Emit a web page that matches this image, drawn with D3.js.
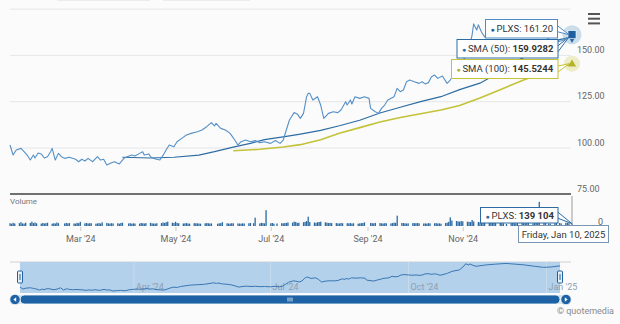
<!DOCTYPE html>
<html>
<head>
<meta charset="utf-8">
<script src="https://cdn.jsdelivr.net/npm/d3@7"></script>
<style>
body { margin: 0; background: #fbfbfb; }
svg text { font-family: Roboto, "Liberation Sans", sans-serif; }
</style>
</head>
<body>
<svg id="chart" width="620" height="324"></svg>
<script>
// PLXS daily chart with SMA 50 / SMA 100 and volume

const priceDates = ["2024-01-16","2024-01-18","2024-01-20","2024-01-23","2024-01-25","2024-01-27","2024-01-29","2024-01-31",
  "2024-02-01","2024-02-03","2024-02-05","2024-02-07","2024-02-09","2024-02-11","2024-02-12","2024-02-14","2024-02-16","2024-02-18","2024-02-20","2024-02-23","2024-02-27","2024-02-29",
  "2024-03-02","2024-03-04","2024-03-06","2024-03-09","2024-03-12","2024-03-14","2024-03-16","2024-03-18","2024-03-21","2024-03-23","2024-03-26","2024-03-29","2024-03-31",
  "2024-04-03","2024-04-05","2024-04-08","2024-04-10","2024-04-11","2024-04-14","2024-04-15","2024-04-17","2024-04-19","2024-04-21","2024-04-23","2024-04-25","2024-04-27","2024-04-30",
  "2024-05-02","2024-05-05","2024-05-08","2024-05-11","2024-05-15","2024-05-18","2024-05-21","2024-05-24","2024-05-26","2024-05-27","2024-05-30",
  "2024-06-02","2024-06-05","2024-06-08","2024-06-10","2024-06-12","2024-06-15","2024-06-18","2024-06-21","2024-06-24","2024-06-27",
  "2024-07-01","2024-07-04","2024-07-07","2024-07-09","2024-07-11","2024-07-13","2024-07-16","2024-07-18","2024-07-20","2024-07-22","2024-07-24","2024-07-25","2024-07-26","2024-07-28","2024-07-31",
  "2024-08-02","2024-08-04","2024-08-07","2024-08-10","2024-08-13","2024-08-15","2024-08-18","2024-08-19","2024-08-21","2024-08-22","2024-08-24","2024-08-27","2024-08-30",
  "2024-09-02","2024-09-03","2024-09-06","2024-09-08","2024-09-10","2024-09-12","2024-09-14","2024-09-18","2024-09-20","2024-09-22","2024-09-24","2024-09-26","2024-09-28",
  "2024-10-01","2024-10-04","2024-10-06","2024-10-08","2024-10-10","2024-10-12","2024-10-14","2024-10-16","2024-10-19","2024-10-22","2024-10-24","2024-10-27","2024-10-30",
  "2024-11-04","2024-11-07","2024-11-08","2024-11-10","2024-11-11","2024-11-13","2024-11-15","2024-11-22","2024-11-28",
  "2024-12-05","2024-12-11","2024-12-17","2024-12-24","2024-12-30","2025-01-04","2025-01-10"];
const priceValues = [101.6,96.2,98.9,99.8,98,96.2,93.5,96.2,
  94.6,97.3,96.8,94.6,95.3,98,99.8,93.5,97.1,95.3,94.4,95,93.9,92.6,
  93.9,93,94.4,92.6,95.3,93.5,93.9,90.8,92,92.6,91.4,94.4,95.3,
  96.2,95.7,97.1,98,96.2,96.8,95.3,94.4,93.9,93.5,96,98.9,101.6,100.7,
  103.4,105.2,107,107.9,108.8,109.7,111.5,113.7,111.9,113.3,110.6,
  109.7,107.9,104.3,101.6,103.4,104.3,103.4,104,102.9,103.4,
  102.5,104,102.5,104.3,109.7,115.1,119.1,118.4,116,118.7,127.7,129.5,129.5,125.9,127.7,
  123.2,116,118.7,119.6,119.1,120.5,125,123.2,125.9,123.8,127.7,126.8,127.7,
  126.8,121.4,119.6,118.7,121.4,123.2,125.9,127.7,132.2,130.4,131.3,135.8,136.7,
  135.8,134.9,135.8,134.6,135.3,138.5,139.4,137.6,138.9,134.9,136.7,140.5,145.8,
  150,161,167,163.7,166.5,162.6,160,164,166,
  168,166,164,160,157,158,161.2];

const sma50Dates = ["2024-03-28","2024-04-15","2024-04-30","2024-05-16","2024-05-26","2024-06-07","2024-06-18","2024-06-27",
  "2024-07-09","2024-07-20","2024-08-02","2024-08-14","2024-08-27","2024-09-09","2024-09-22","2024-10-05","2024-10-18",
  "2024-10-30","2024-11-12","2024-11-25","2024-12-08","2024-12-21","2025-01-02","2025-01-10"];
const sma50Values = [95,94.6,95,96.2,98,100.5,102.5,104.5,106,107.5,109.5,112,115,118.9,122,125,127.7,
  131.5,135,141,148,154,158.5,159.9282];

const sma100Dates = ["2024-06-07","2024-06-24","2024-07-09","2024-07-20","2024-08-02","2024-08-14","2024-08-27","2024-09-09",
  "2024-09-22","2024-10-05","2024-10-18","2024-10-30","2024-11-12","2024-11-25","2024-12-10","2024-12-24","2025-01-02","2025-01-10"];
const sma100Values = [98.5,99.3,100.5,101.8,104.5,108,111,114,116.5,118.5,120.5,123,127,131.5,136.7,141,143.5,145.5244];

// volume in thousands of shares, one value per trading day (Jan 16 2024 .. Jan 10 2025)
const volumeK = [
  165,140,190,150,170,230,155,145,200,185,260,175,
  210,160,145,180,150,175,195,140,165,150,210,170,155,185,160,175,150,145,190,170,
  250,160,180,150,170,165,140,155,175,150,220,185,160,145,170,150,165,140,180,200,
  155,170,140,160,150,145,180,165,150,175,190,160,150,145,165,170,210,185,230,260,200,175,
  255,180,165,150,160,175,150,145,170,165,160,150,140,160,175,165,150,155,140,160,170,230,
  165,150,145,170,160,155,150,140,160,150,165,180,170,500,155,190,175,160,950,
  165,180,140,150,170,160,175,190,210,200,260,240,180,200,230,250,300,560,240,210,190,230,
  240,260,220,200,180,190,170,175,160,150,185,165,170,160,175,150,165,140,160,170,180,220,
  180,170,160,185,175,160,150,170,165,155,175,200,190,620,180,175,165,150,160,170,
  175,165,180,160,150,155,145,170,160,165,175,150,160,140,175,200,250,520,330,300,280,260,300,
  280,260,250,240,360,270,240,220,210,200,230,190,200,185,180,210,190,175,160,120,
  170,185,175,160,180,190,165,170,175,185,160,175,190,200,1450,230,200,150,140,165,180,
  175,160,190,200,170,139.104];

const holidays = ["2024-02-19","2024-03-29","2024-05-27","2024-06-19","2024-07-04","2024-09-02","2024-11-28","2024-12-25","2025-01-01","2025-01-09"];

const priceTicks = [100, 125, 150, 175];
const priceLabels = [75, 100, 125, 150];
const monthTicks = ["2024-03-01","2024-05-01","2024-07-01","2024-09-01","2024-11-01"];
const navTicks = ["2024-04-01","2024-07-01","2024-10-01","2025-01-01"];

const parse = d3.timeParse("%Y-%m-%d");
const fmt = d3.format(".2f");

const price = d3.zip(priceDates.map(parse), priceValues);
const sma50 = d3.zip(sma50Dates.map(parse), sma50Values);
const sma100 = d3.zip(sma100Dates.map(parse), sma100Values);

const start = parse("2024-01-16"), end = parse("2025-01-10");
const tradingDays = d3.timeDay.range(start, d3.timeDay.offset(end, 1))
  .filter(d => d.getDay() !== 0 && d.getDay() !== 6 && !holidays.includes(d3.timeFormat("%Y-%m-%d")(d)));
const volume = d3.zip(tradingDays, volumeK);

const svg = d3.select("#chart");
svg.append("rect").attr("width", 620).attr("height", 324).attr("fill", "#fbfbfb");

// scales
const x = d3.scaleTime().domain([start, end]).range([10, 572]);
const y = d3.scaleLinear().domain([75, 175]).range([194.3, 9.1]);
const yVol = d3.scaleLinear().domain([0, 1500]).range([226, 201]);
const xNav = d3.scaleTime().domain([start, end]).range([20, 560]);
const yNav = d3.scaleLinear().domain([88, 172]).range([292, 262]);

// range selector remnants at top edge
svg.append("line").attr("x1", 57).attr("x2", 150).attr("y1", 0.5).attr("y2", 0.5).attr("stroke", "#ececec");
svg.append("line").attr("x1", 163).attr("x2", 250).attr("y1", 0.5).attr("y2", 0.5).attr("stroke", "#ececec");

// gridlines
svg.append("g").selectAll("line").data(priceTicks).join("line")
  .attr("x1", 10).attr("x2", 571)
  .attr("y1", d => y(d)).attr("y2", d => y(d))
  .attr("stroke", "#e6e6e6").attr("stroke-width", 1);

// price axis labels
svg.append("g").selectAll("text").data(priceLabels).join("text")
  .attr("x", 577).attr("y", d => y(d) - 2.5)
  .attr("font-size", 9).attr("fill", "#666")
  .text(d => fmt(d));

// separator between panes
svg.append("line").attr("x1", 10).attr("x2", 571).attr("y1", 194).attr("y2", 194)
  .attr("stroke", "#707070").attr("stroke-width", 2);

// lines
const line = d3.line().x(d => x(d[0])).y(d => y(d[1]));
svg.append("path").datum(sma100).attr("d", line).attr("fill", "none")
  .attr("stroke", "#c3c238").attr("stroke-width", 1.6);
svg.append("path").datum(sma50).attr("d", line).attr("fill", "none")
  .attr("stroke", "#2d6ca3").attr("stroke-width", 1.2);
svg.append("path").datum(price).attr("d", line).attr("fill", "none")
  .attr("stroke", "#5590c6").attr("stroke-width", 1.1).attr("stroke-linejoin", "round");

// volume pane
svg.append("text").attr("x", 10).attr("y", 204).attr("font-size", 8).attr("fill", "#777").text("Volume");
svg.append("g").selectAll("rect").data(volume).join("rect")
  .attr("x", d => x(d[0]) - 0.6)
  .attr("y", d => yVol(d[1]))
  .attr("width", 1.3)
  .attr("height", d => 226 - yVol(d[1]))
  .attr("fill", "#2d6aa2");
svg.append("text").attr("x", 603).attr("y", 225).attr("text-anchor", "end")
  .attr("font-size", 9).attr("fill", "#666").text("0");
// crosshair
svg.append("line").attr("x1", 572).attr("x2", 572).attr("y1", 196).attr("y2", 228)
  .attr("stroke", "#9a9a9a").attr("stroke-width", 1);

// x axis
const xAxis = svg.append("g").attr("transform", "translate(0,227)")
  .call(d3.axisBottom(x).tickValues(monthTicks.map(parse)).tickSize(4).tickFormat(d3.timeFormat("%b '%y")));
xAxis.select(".domain").remove();
xAxis.selectAll("line").attr("stroke", "#ccc");
xAxis.selectAll("text").attr("font-size", 9).attr("fill", "#666").attr("dy", "0.9em");

// navigator
svg.append("line").attr("x1", 10).attr("x2", 571).attr("y1", 262).attr("y2", 262).attr("stroke", "#d0d0d0");
svg.append("rect").attr("x", 20).attr("y", 262).attr("width", 540).attr("height", 31).attr("fill", "#b4d1eb");
svg.append("g").selectAll("line").data(navTicks.map(parse)).join("line")
  .attr("x1", d => xNav(d)).attr("x2", d => xNav(d)).attr("y1", 262).attr("y2", 293)
  .attr("stroke", "#c8dbed");
svg.append("g").selectAll("text").data(navTicks.map(parse)).join("text")
  .attr("x", d => xNav(d) + 2).attr("y", 290)
  .attr("font-size", 9).attr("fill", "#8f9fae")
  .text(d3.timeFormat("%b '%y"));
const navLine = d3.line().x(d => xNav(d[0])).y(d => yNav(d[1]));
svg.append("path").datum(price).attr("d", navLine).attr("fill", "none")
  .attr("stroke", "#3a77b4").attr("stroke-width", 1);
[20, 560].forEach(hx => {
  svg.append("rect").attr("x", hx - 2.5).attr("y", 271).attr("width", 5).attr("height", 12).attr("rx", 1)
    .attr("fill", "#e9eff6").attr("stroke", "#1e5f9f").attr("stroke-width", 1);
  svg.append("line").attr("x1", hx).attr("x2", hx).attr("y1", 274).attr("y2", 280).attr("stroke", "#1e5f9f");
});

// scrollbar
svg.append("rect").attr("x", 10).attr("y", 295).attr("width", 561).attr("height", 9).attr("rx", 4.5).attr("fill", "#dde6ee");
svg.append("rect").attr("x", 20).attr("y", 295).attr("width", 540).attr("height", 9).attr("rx", 4.5)
  .attr("fill", "#1c62a4").attr("stroke", "#fff").attr("stroke-width", 0.8);
[[15, -1], [566, 1]].forEach(([cx, dir]) => {
  svg.append("circle").attr("cx", cx).attr("cy", 299.5).attr("r", 5.2).attr("fill", "#1c62a4").attr("stroke", "#fff").attr("stroke-width", 0.8);
  svg.append("path").attr("d", `M${cx + dir * 1.6},299.5 L${cx - dir * 1.2},297.3 L${cx - dir * 1.2},301.7 Z`).attr("fill", "#fff");
});
[288, 290, 292].forEach(gx => {
  svg.append("line").attr("x1", gx).attr("x2", gx).attr("y1", 297.5).attr("y2", 301.5).attr("stroke", "#fff").attr("stroke-width", 0.8);
});

// credit
svg.append("text").attr("x", 614).attr("y", 314).attr("text-anchor", "end")
  .attr("font-size", 9).attr("fill", "#8a8a8a").text("\u00a9 quotemedia");

// menu icon
[14, 18.7, 23.4].forEach(my => {
  svg.append("rect").attr("x", 588).attr("y", my - 1).attr("width", 12).attr("height", 2).attr("fill", "#555");
});

// hover markers on last point
const last = end;
svg.append("circle").attr("cx", x(last)).attr("cy", y(161.2)).attr("r", 9.5).attr("fill", "rgba(79,140,195,0.28)");
svg.append("path").attr("transform", `translate(${x(last)},${y(159.9282)})`)
  .attr("d", d3.symbol(d3.symbolDiamond, 40)()).attr("fill", "#2d6ca3");
svg.append("rect").attr("x", x(last) - 4).attr("y", y(161.2) - 4).attr("width", 8).attr("height", 8)
  .attr("fill", "#1f5fa0").attr("stroke", "#fff").attr("stroke-width", 0.6);
svg.append("circle").attr("cx", x(last)).attr("cy", y(145.5244)).attr("r", 8).attr("fill", "rgba(195,194,56,0.25)");
svg.append("path").attr("transform", `translate(${x(last)},${y(145.5244) + 0.5})`)
  .attr("d", d3.symbol(d3.symbolTriangle, 30)()).attr("fill", "#b5b22c");

// tooltip boxes
function tip(bx, by, bw, bh, color, dot, label, value, bold, tx, ty) {
  svg.append("path").attr("d", `M${bx + bw},${by + bh / 2 - 3} L${tx},${ty} L${bx + bw},${by + bh / 2 + 3}`)
    .attr("fill", "#fff").attr("stroke", color).attr("stroke-width", 1);
  svg.append("rect").attr("x", bx).attr("y", by).attr("width", bw).attr("height", bh)
    .attr("fill", "#fff").attr("fill-opacity", 0.95).attr("stroke", color).attr("stroke-width", 1);
  const t = svg.append("text").attr("x", bx + 5).attr("y", by + bh / 2 + 3.3).attr("font-size", 9.5).attr("fill", "#333");
  t.append("tspan").attr("fill", dot).attr("font-size", 7).text("\u25CF ");
  t.append("tspan").text(label);
  t.append("tspan").attr("font-weight", bold ? "bold" : "normal").text(value);
  // keep the text inside its box
  const len = t.node().getComputedTextLength();
  if (len > bw - 9) t.attr("textLength", bw - 9).attr("lengthAdjust", "spacingAndGlyphs");
}
tip(485.5, 19.5, 72, 18.5, "#4f8cc3", "#1f5fa0", "PLXS: ", "161.20", false, x(last) - 3, y(161.2));
tip(457, 39.5, 101, 18.5, "#2d6ca3", "#2d6ca3", "SMA (50): ", "159.9282", true, x(last) - 3, y(159.9282));
tip(451.5, 59.5, 106.5, 19, "#c3c238", "#b5b22c", "SMA (100): ", "145.5244", true, x(last) - 3, y(145.5244));
tip(480.5, 207.5, 77.5, 15.5, "#2d6aa2", "#2d6aa2", "PLXS: ", "139 104", true, x(last), yVol(139.104));

// date label
svg.append("rect").attr("x", 518.5).attr("y", 225.5).attr("width", 90).attr("height", 17)
  .attr("fill", "#fff").attr("stroke", "#7896b4").attr("stroke-width", 1);
svg.append("text").attr("x", 563.5).attr("y", 237.5).attr("text-anchor", "middle")
  .attr("font-size", 9.5).attr("fill", "#333").text("Friday, Jan 10, 2025");
</script>
</body>
</html>
